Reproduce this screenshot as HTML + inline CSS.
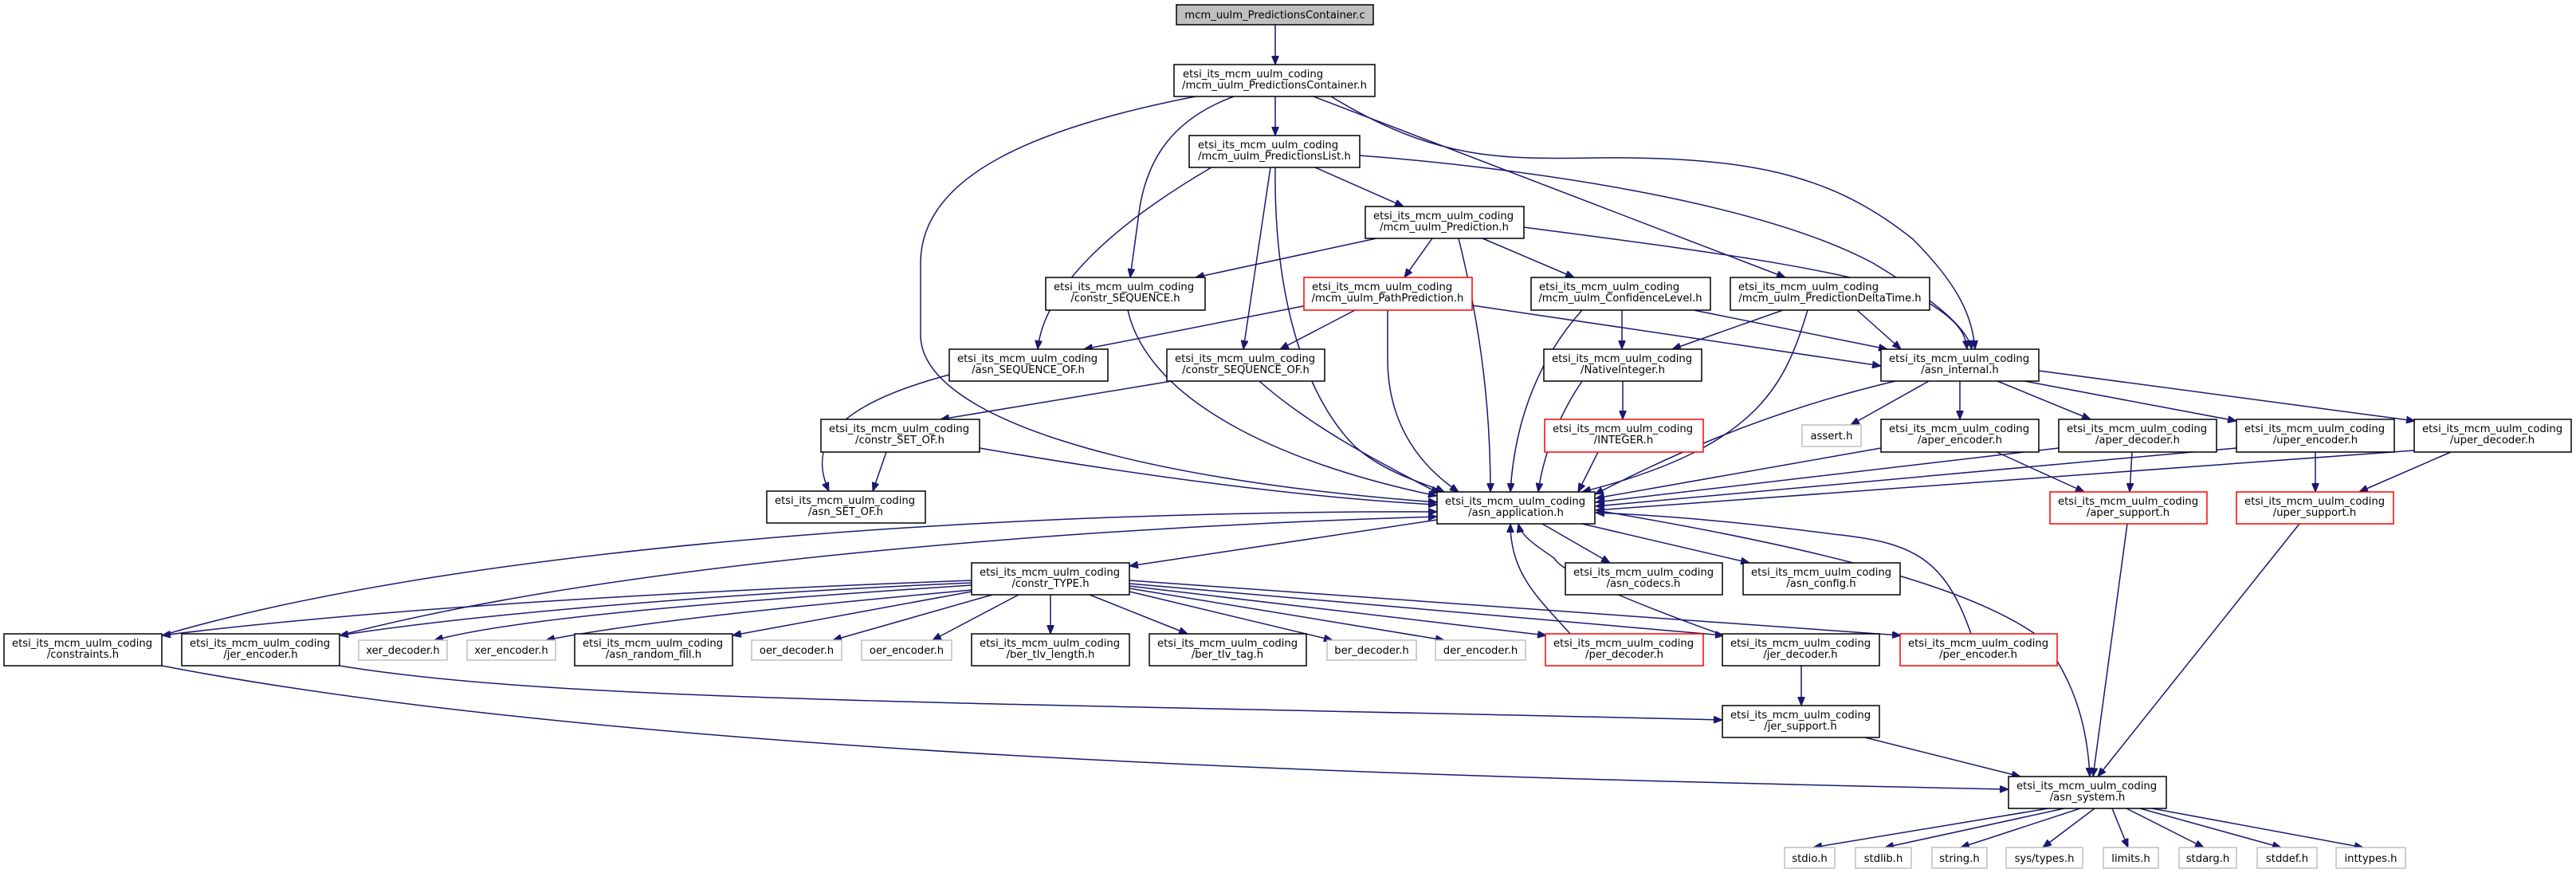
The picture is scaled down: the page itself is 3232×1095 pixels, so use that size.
<!DOCTYPE html>
<html><head><meta charset="utf-8"><style>
html,body{margin:0;padding:0;background:#fff;}
svg{display:block;}
text{font-family:"DejaVu Sans","Liberation Sans",sans-serif;font-size:13.2px;fill:#000;}
.e{fill:none;stroke:#191970;stroke-width:1.5;marker-end:url(#a);}
.n{fill:#fff;stroke:#000;stroke-width:1.5;}
.r{fill:#fff;stroke:#ff0000;stroke-width:1.5;}
.g{fill:#fff;stroke:#bfbfbf;stroke-width:1.5;}
</style></head><body>
<svg width="3232" height="1095" viewBox="0 0 3232 1095" xmlns="http://www.w3.org/2000/svg">
<defs><marker id="a" markerUnits="userSpaceOnUse" markerWidth="12" markerHeight="9" refX="11" refY="4.5" orient="auto"><path d="M0,0 L11,4.5 L0,9 z" fill="#191970" stroke="#191970"/></marker></defs>
<g>
<path class="e" d="M1600,31 L1600,81"/>
<path class="e" d="M1600,121 L1600,170"/>
<path class="e" d="M1500,121 C1300,160 1155,220 1155,330 L1155,420 C1155,520 1400,600 1803,630"/>
<path class="e" d="M1548,121 C1470,150 1440,200 1430,260 L1418,348"/>
<path class="e" d="M1648,121 L2240,348"/>
<path class="e" d="M1670,121 C1800,200 1880,200 2000,198 C2200,196 2300,220 2400,300 C2460,360 2475,400 2478,438"/>
<path class="e" d="M1706,195 C1900,210 2200,250 2350,330 C2450,390 2470,420 2474,438"/>
<path class="e" d="M1912,285 C2100,310 2350,340 2420,380 C2460,405 2466,420 2468,438"/>
<path class="e" d="M1650,210 L1761,259"/>
<path class="e" d="M1520,210 C1400,280 1310,360 1302,438"/>
<path class="e" d="M1594,210 L1560,438"/>
<path class="e" d="M1600,210 C1598,380 1640,500 1700,560 C1740,595 1790,607 1812,617"/>
<path class="e" d="M1727,299 L1500,348"/>
<path class="e" d="M1797,299 L1762,348"/>
<path class="e" d="M1830,299 C1860,420 1870,520 1870,617"/>
<path class="e" d="M1860,299 L1975,348"/>
<path class="e" d="M1415,389 C1440,500 1600,580 1803,622"/>
<path class="e" d="M1640,383 L1360,438"/>
<path class="e" d="M1700,389 L1606,438"/>
<path class="e" d="M1741,389 L1741,450 C1741,540 1790,590 1830,617"/>
<path class="e" d="M1847,383 L2360,459"/>
<path class="e" d="M2035,389 L2035,438"/>
<path class="e" d="M2125,389 L2368,438"/>
<path class="e" d="M1985,389 C1930,450 1900,530 1895,617"/>
<path class="e" d="M2237,389 L2098,438"/>
<path class="e" d="M2330,389 L2385,438"/>
<path class="e" d="M2268,389 C2240,480 2210,560 1985,617"/>
<path class="e" d="M1191,470 C1060,505 1010,550 1040,616"/>
<path class="e" d="M1470,478 L1180,526"/>
<path class="e" d="M1580,478 C1650,540 1750,590 1806,619"/>
<path class="e" d="M2036,478 L2036,526"/>
<path class="e" d="M1985,478 C1950,530 1935,580 1930,617"/>
<path class="e" d="M2378,478 C2200,520 2080,580 2001,620"/>
<path class="e" d="M2420,478 L2322,533"/>
<path class="e" d="M2459,478 L2459,526"/>
<path class="e" d="M2506,478 L2623,526"/>
<path class="e" d="M2540,478 L2806,528"/>
<path class="e" d="M2558,465 L3030,528"/>
<path class="e" d="M2005,567 L1980,617"/>
<path class="e" d="M2360,562 L2002,625"/>
<path class="e" d="M2505,567 L2615,617"/>
<path class="e" d="M2583,562 L2002,630"/>
<path class="e" d="M2675,567 L2672,617"/>
<path class="e" d="M2806,562 L2002,635"/>
<path class="e" d="M2905,567 L2905,617"/>
<path class="e" d="M3029,565 L2002,640"/>
<path class="e" d="M3075,567 L2960,617"/>
<path class="e" d="M1112,567 L1095,616"/>
<path class="e" d="M1229,562 C1450,600 1650,625 1803,633"/>
<path class="e" d="M1803,652 L1417,710"/>
<path class="e" d="M1935,657 L2020,706"/>
<path class="e" d="M1985,657 L2195,706"/>
<path class="e" d="M2002,640 C2300,690 2480,740 2560,800 C2610,860 2620,930 2622,974"/>
<path class="e" d="M203,797 C600,680 1300,640 1803,642"/>
<path class="e" d="M426,797 C800,700 1400,660 1803,648"/>
<path class="e" d="M1219,728 C900,740 500,760 203,797"/>
<path class="e" d="M1219,731 C900,745 600,770 426,797"/>
<path class="e" d="M1219,734 C900,755 650,775 545,803"/>
<path class="e" d="M1219,740 C1000,760 800,780 685,803"/>
<path class="e" d="M1219,742 L919,797"/>
<path class="e" d="M1245,746 L1045,803"/>
<path class="e" d="M1278,746 L1170,803"/>
<path class="e" d="M1318,746 L1318,795"/>
<path class="e" d="M1367,746 L1490,795"/>
<path class="e" d="M1417,742 L1672,803"/>
<path class="e" d="M1417,738 L1812,803"/>
<path class="e" d="M1417,735 L1940,797"/>
<path class="e" d="M1417,732 L2163,797"/>
<path class="e" d="M1417,728 L2385,797"/>
<path class="e" d="M1970,795 C1930,750 1895,720 1895,657"/>
<path class="e" d="M2163,797 C2060,760 1960,720 1950,700 C1920,680 1908,670 1905,657"/>
<path class="e" d="M2473,795 C2440,700 2400,680 2300,670 C2150,650 2050,645 2002,643"/>
<path class="e" d="M2260,835 L2260,885"/>
<path class="e" d="M426,835 C700,880 1200,880 2161,903"/>
<path class="e" d="M203,835 C800,950 1800,975 2520,990"/>
<path class="e" d="M2340,925 L2535,974"/>
<path class="e" d="M2669,657 L2626,974"/>
<path class="e" d="M2885,657 L2632,974"/>
<path class="e" d="M2570,1014 L2275,1063"/>
<path class="e" d="M2590,1014 L2365,1063"/>
<path class="e" d="M2610,1014 L2460,1063"/>
<path class="e" d="M2628,1014 L2563,1063"/>
<path class="e" d="M2650,1014 L2670,1063"/>
<path class="e" d="M2668,1014 L2765,1063"/>
<path class="e" d="M2685,1014 L2862,1063"/>
<path class="e" d="M2700,1014 L2965,1063"/>
</g>
<g>
<rect x="1476" y="6" width="247" height="25" fill="#bfbfbf" stroke="#000" stroke-width="1.5"/><text x="1599.5" y="23" text-anchor="middle">mcm_uulm_PredictionsContainer.c</text>
<rect class="n" x="1473" y="81" width="252" height="40"/><text x="1484" y="97">etsi_its_mcm_uulm_coding</text><text x="1599" y="111" text-anchor="middle">/mcm_uulm_PredictionsContainer.h</text>
<rect class="n" x="1492" y="170" width="214" height="40"/><text x="1503" y="186">etsi_its_mcm_uulm_coding</text><text x="1599" y="200" text-anchor="middle">/mcm_uulm_PredictionsList.h</text>
<rect class="n" x="1713" y="259" width="199" height="40"/><text x="1723" y="275">etsi_its_mcm_uulm_coding</text><text x="1812" y="289" text-anchor="middle">/mcm_uulm_Prediction.h</text>
<rect class="n" x="1312" y="348" width="200" height="41"/><text x="1322" y="364">etsi_its_mcm_uulm_coding</text><text x="1412" y="378" text-anchor="middle">/constr_SEQUENCE.h</text>
<rect class="r" x="1636" y="348" width="211" height="41"/><text x="1646" y="364">etsi_its_mcm_uulm_coding</text><text x="1741" y="378" text-anchor="middle">/mcm_uulm_PathPrediction.h</text>
<rect class="n" x="1921" y="348" width="225" height="41"/><text x="1931" y="364">etsi_its_mcm_uulm_coding</text><text x="2033" y="378" text-anchor="middle">/mcm_uulm_ConfidenceLevel.h</text>
<rect class="n" x="2171" y="348" width="250" height="41"/><text x="2181" y="364">etsi_its_mcm_uulm_coding</text><text x="2296" y="378" text-anchor="middle">/mcm_uulm_PredictionDeltaTime.h</text>
<rect class="n" x="1191" y="438" width="199" height="40"/><text x="1201" y="454">etsi_its_mcm_uulm_coding</text><text x="1290" y="468" text-anchor="middle">/asn_SEQUENCE_OF.h</text>
<rect class="n" x="1464" y="438" width="198" height="40"/><text x="1474" y="454">etsi_its_mcm_uulm_coding</text><text x="1563" y="468" text-anchor="middle">/constr_SEQUENCE_OF.h</text>
<rect class="n" x="1937" y="438" width="198" height="40"/><text x="1947" y="454">etsi_its_mcm_uulm_coding</text><text x="2036" y="468" text-anchor="middle">/NativeInteger.h</text>
<rect class="n" x="2360" y="438" width="198" height="40"/><text x="2370" y="454">etsi_its_mcm_uulm_coding</text><text x="2459" y="468" text-anchor="middle">/asn_internal.h</text>
<rect class="n" x="1030" y="526" width="199" height="41"/><text x="1040" y="542">etsi_its_mcm_uulm_coding</text><text x="1129" y="556" text-anchor="middle">/constr_SET_OF.h</text>
<rect class="r" x="1938" y="526" width="199" height="41"/><text x="1948" y="542">etsi_its_mcm_uulm_coding</text><text x="2037" y="556" text-anchor="middle">/INTEGER.h</text>
<rect class="g" x="2261" y="533" width="74" height="27"/><text x="2298" y="551" text-anchor="middle">assert.h</text>
<rect class="n" x="2360" y="526" width="198" height="41"/><text x="2370" y="542">etsi_its_mcm_uulm_coding</text><text x="2459" y="556" text-anchor="middle">/aper_encoder.h</text>
<rect class="n" x="2583" y="526" width="198" height="41"/><text x="2593" y="542">etsi_its_mcm_uulm_coding</text><text x="2682" y="556" text-anchor="middle">/aper_decoder.h</text>
<rect class="n" x="2806" y="526" width="198" height="41"/><text x="2816" y="542">etsi_its_mcm_uulm_coding</text><text x="2905" y="556" text-anchor="middle">/uper_encoder.h</text>
<rect class="n" x="3029" y="526" width="197" height="41"/><text x="3039" y="542">etsi_its_mcm_uulm_coding</text><text x="3127" y="556" text-anchor="middle">/uper_decoder.h</text>
<rect class="n" x="962" y="616" width="199" height="40"/><text x="972" y="632">etsi_its_mcm_uulm_coding</text><text x="1061" y="646" text-anchor="middle">/asn_SET_OF.h</text>
<rect class="n" x="1803" y="617" width="198" height="40"/><text x="1813" y="633">etsi_its_mcm_uulm_coding</text><text x="1902" y="647" text-anchor="middle">/asn_application.h</text>
<rect class="r" x="2572" y="617" width="197" height="40"/><text x="2582" y="633">etsi_its_mcm_uulm_coding</text><text x="2670" y="647" text-anchor="middle">/aper_support.h</text>
<rect class="r" x="2806" y="617" width="197" height="40"/><text x="2816" y="633">etsi_its_mcm_uulm_coding</text><text x="2904" y="647" text-anchor="middle">/uper_support.h</text>
<rect class="n" x="1219" y="706" width="198" height="40"/><text x="1229" y="722">etsi_its_mcm_uulm_coding</text><text x="1318" y="736" text-anchor="middle">/constr_TYPE.h</text>
<rect class="n" x="1964" y="706" width="197" height="40"/><text x="1974" y="722">etsi_its_mcm_uulm_coding</text><text x="2062" y="736" text-anchor="middle">/asn_codecs.h</text>
<rect class="n" x="2187" y="706" width="197" height="40"/><text x="2197" y="722">etsi_its_mcm_uulm_coding</text><text x="2285" y="736" text-anchor="middle">/asn_config.h</text>
<rect class="n" x="5" y="795" width="198" height="40"/><text x="15" y="811">etsi_its_mcm_uulm_coding</text><text x="104" y="825" text-anchor="middle">/constraints.h</text>
<rect class="n" x="228" y="795" width="198" height="40"/><text x="238" y="811">etsi_its_mcm_uulm_coding</text><text x="327" y="825" text-anchor="middle">/jer_encoder.h</text>
<rect class="g" x="450" y="803" width="111" height="25"/><text x="505.5" y="820" text-anchor="middle">xer_decoder.h</text>
<rect class="g" x="586" y="803" width="111" height="25"/><text x="641.5" y="820" text-anchor="middle">xer_encoder.h</text>
<rect class="n" x="721" y="795" width="198" height="40"/><text x="731" y="811">etsi_its_mcm_uulm_coding</text><text x="820" y="825" text-anchor="middle">/asn_random_fill.h</text>
<rect class="g" x="943" y="803" width="113" height="25"/><text x="999.5" y="820" text-anchor="middle">oer_decoder.h</text>
<rect class="g" x="1081" y="803" width="113" height="25"/><text x="1137.5" y="820" text-anchor="middle">oer_encoder.h</text>
<rect class="n" x="1219" y="795" width="198" height="40"/><text x="1229" y="811">etsi_its_mcm_uulm_coding</text><text x="1318" y="825" text-anchor="middle">/ber_tlv_length.h</text>
<rect class="n" x="1442" y="795" width="197" height="40"/><text x="1452" y="811">etsi_its_mcm_uulm_coding</text><text x="1540" y="825" text-anchor="middle">/ber_tlv_tag.h</text>
<rect class="g" x="1665" y="803" width="112" height="25"/><text x="1721" y="820" text-anchor="middle">ber_decoder.h</text>
<rect class="g" x="1801" y="803" width="113" height="25"/><text x="1857.5" y="820" text-anchor="middle">der_encoder.h</text>
<rect class="r" x="1939" y="795" width="198" height="40"/><text x="1949" y="811">etsi_its_mcm_uulm_coding</text><text x="2038" y="825" text-anchor="middle">/per_decoder.h</text>
<rect class="n" x="2161" y="795" width="197" height="40"/><text x="2171" y="811">etsi_its_mcm_uulm_coding</text><text x="2259" y="825" text-anchor="middle">/jer_decoder.h</text>
<rect class="r" x="2384" y="795" width="197" height="40"/><text x="2394" y="811">etsi_its_mcm_uulm_coding</text><text x="2482" y="825" text-anchor="middle">/per_encoder.h</text>
<rect class="n" x="2161" y="885" width="197" height="40"/><text x="2171" y="901">etsi_its_mcm_uulm_coding</text><text x="2259" y="915" text-anchor="middle">/jer_support.h</text>
<rect class="n" x="2520" y="974" width="198" height="40"/><text x="2530" y="990">etsi_its_mcm_uulm_coding</text><text x="2619" y="1004" text-anchor="middle">/asn_system.h</text>
<rect class="g" x="2239" y="1063" width="63" height="26"/><text x="2270.5" y="1081" text-anchor="middle">stdio.h</text>
<rect class="g" x="2328" y="1063" width="70" height="26"/><text x="2363" y="1081" text-anchor="middle">stdlib.h</text>
<rect class="g" x="2424" y="1063" width="69" height="26"/><text x="2458.5" y="1081" text-anchor="middle">string.h</text>
<rect class="g" x="2517" y="1063" width="96" height="26"/><text x="2565" y="1081" text-anchor="middle">sys/types.h</text>
<rect class="g" x="2639" y="1063" width="69" height="26"/><text x="2673.5" y="1081" text-anchor="middle">limits.h</text>
<rect class="g" x="2734" y="1063" width="72" height="26"/><text x="2770" y="1081" text-anchor="middle">stdarg.h</text>
<rect class="g" x="2832" y="1063" width="75" height="26"/><text x="2869.5" y="1081" text-anchor="middle">stddef.h</text>
<rect class="g" x="2931" y="1063" width="87" height="26"/><text x="2974.5" y="1081" text-anchor="middle">inttypes.h</text>
</g>
</svg>
</body></html>
